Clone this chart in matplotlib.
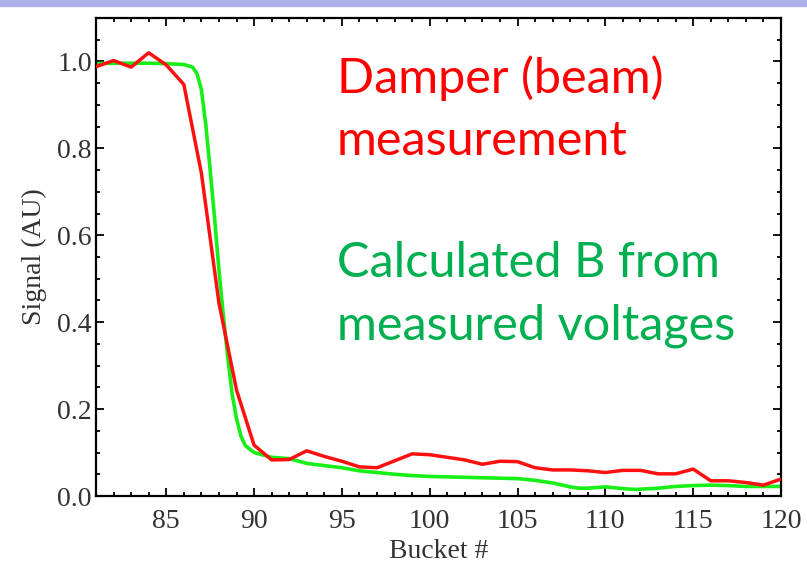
import matplotlib
matplotlib.use("Agg")
import matplotlib.pyplot as plt
from matplotlib.ticker import MultipleLocator, FormatStrFormatter
from matplotlib.patches import Rectangle

# damper (beam) measurement, one point per bucket
bucket_red = list(range(81, 121))
signal_red = [0.988, 1.002, 0.987, 1.020, 0.992, 0.947, 0.743, 0.444, 0.244, 0.117,
              0.083, 0.084, 0.104, 0.091, 0.080, 0.067, 0.065, 0.081, 0.097, 0.095,
              0.089, 0.083, 0.073, 0.080, 0.079, 0.065, 0.060, 0.060, 0.058, 0.054,
              0.059, 0.059, 0.051, 0.051, 0.062, 0.035, 0.035, 0.031, 0.025, 0.039]

# B calculated from measured voltages (smooth curve)
bucket_green = [81, 82, 83, 84, 85, 86, 86.5, 86.75, 87, 87.25, 87.5, 87.75, 88, 88.25,
                88.5, 88.75, 89, 89.25, 89.5, 90, 91, 92, 93, 94, 95, 96, 97, 98, 99,
                100, 101, 102, 103, 104, 105, 106, 107, 108, 108.5, 109, 110, 111,
                111.7, 113, 114, 115, 116, 117, 118, 119, 120]
signal_green = [0.995, 0.996, 0.996, 0.996, 0.995, 0.993, 0.987, 0.972, 0.935, 0.855,
                0.75, 0.64, 0.52, 0.415, 0.32, 0.235, 0.178, 0.138, 0.116, 0.100,
                0.089, 0.086, 0.075, 0.070, 0.065, 0.058, 0.054, 0.050, 0.047, 0.045,
                0.044, 0.043, 0.042, 0.041, 0.040, 0.036, 0.030, 0.021, 0.018, 0.018,
                0.021, 0.017, 0.015, 0.018, 0.022, 0.024, 0.025, 0.024, 0.022, 0.022,
                0.022]

serif = 'Liberation Serif'
grey = '#333333'

fig = plt.figure(figsize=(8.07, 5.76), dpi=100)
fig.patches.append(Rectangle((0, 1 - 6/576), 1, 6/576, transform=fig.transFigure,
                             color='#aeaeeb', zorder=0))
ax = fig.add_axes([96/807, 1 - 496/576, 685/807, 478/576])

ax.plot(bucket_red, signal_red, color='#ff1010', lw=2.5, zorder=3)
ax.plot(bucket_green, signal_green, color='#18ee18', lw=2.6, zorder=2)

ax.set_xlim(81, 120)
ax.set_ylim(0, 1.1)
ax.xaxis.set_major_locator(MultipleLocator(5))
ax.xaxis.set_minor_locator(MultipleLocator(1))
ax.yaxis.set_major_locator(MultipleLocator(0.2))
ax.yaxis.set_minor_locator(MultipleLocator(0.05))
ax.yaxis.set_major_formatter(FormatStrFormatter('%.1f'))
ax.tick_params(which='both', direction='in', top=True, right=True, width=1.3,
               labelsize=20, labelcolor=grey, labelfontfamily=serif)
ax.tick_params(which='major', length=6, pad=3)
ax.tick_params(axis='x', which='major', pad=9)
ax.tick_params(which='minor', length=3)
for s in ax.spines.values():
    s.set_linewidth(1.6)

ax.set_xlabel('Bucket #', fontsize=20, color=grey, family=serif)
ax.xaxis.set_label_coords(0.5, -0.09)
ax.xaxis.label.set_va('top')
ax.set_ylabel('Signal (AU)', fontsize=20, color=grey, family=serif)
ax.yaxis.set_label_coords(-0.0715, 0.5)

x0 = 337/807
for txt, yb, col in [('Damper (beam)', 93, '#ff0000'),
                     ('measurement', 155, '#ff0000'),
                     ('Calculated B from', 277, '#00b050'),
                     ('measured voltages', 340, '#00b050')]:
    fig.text(x0, 1 - yb/576, txt, color=col, fontsize=35, family='Lato', va='baseline')

fig.savefig('out.png', dpi=100)
